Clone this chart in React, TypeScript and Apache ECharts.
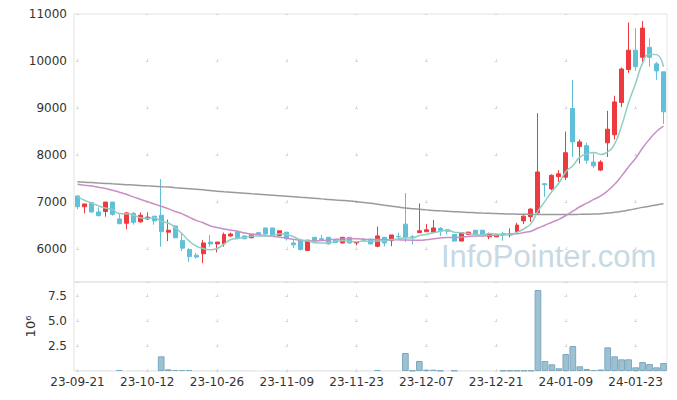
import React, { useEffect, useRef } from "react";
import * as echarts from "echarts";

const dates = [
  "23-09-21","23-09-22","23-09-25","23-09-26","23-09-27",
  "23-10-04","23-10-05","23-10-06","23-10-10","23-10-11","23-10-12","23-10-13","23-10-16","23-10-17","23-10-18","23-10-19","23-10-20","23-10-23","23-10-24","23-10-25","23-10-26","23-10-27","23-10-30","23-10-31",
  "23-11-01","23-11-02","23-11-03","23-11-06","23-11-07","23-11-08","23-11-09","23-11-10","23-11-13","23-11-14","23-11-15","23-11-16","23-11-17","23-11-20","23-11-21","23-11-22","23-11-23","23-11-24","23-11-27","23-11-28","23-11-29","23-11-30",
  "23-12-01","23-12-04","23-12-05","23-12-06","23-12-07","23-12-08","23-12-11","23-12-12","23-12-13","23-12-14","23-12-15","23-12-18","23-12-19","23-12-20","23-12-21","23-12-22","23-12-26","23-12-27","23-12-28",
  "24-01-02","24-01-03","24-01-04","24-01-05","24-01-08","24-01-09","24-01-10","24-01-11","24-01-12","24-01-15","24-01-16","24-01-17","24-01-18","24-01-19","24-01-22","24-01-23","24-01-24","24-01-25","24-01-26","24-01-29"
];

const opens = [
  7130,6900,6990,6790,6800,7000,6640,6550,6760,6580,
  6640,6700,6720,6360,6490,6180,5990,5870,5900,6150,
  6110,6110,6280,6370,6280,6240,6350,6450,6450,6290,
  6360,6130,6190,5970,6250,6220,6250,6190,6130,6250,
  6130,6200,6210,6060,6250,6180,6270,6530,6260,6350,
  6370,6360,6440,6410,6310,6170,6310,6400,6400,6260,
  6260,6330,6300,6370,6600,6690,6770,7390,7280,7540,
  7530,8990,8180,8200,7850,7680,8260,8430,9120,9820,
  10230,10080,10290,9940,9770
];
const closes = [
  6900,6960,6790,6710,7000,6740,6540,6770,6570,6720,
  6680,6600,6370,6400,6240,6020,5840,5830,6130,6110,
  6150,6310,6320,6240,6220,6310,6310,6320,6290,6390,
  6220,6090,5990,6190,6180,6200,6110,6140,6250,6130,
  6150,6190,6110,6280,6130,6300,6260,6240,6250,6390,
  6410,6450,6390,6380,6170,6350,6360,6320,6300,6320,
  6300,6320,6330,6510,6700,6850,7640,7370,7570,7600,
  8050,8280,8280,7890,7770,7850,8550,9130,9830,10230,
  9880,10700,10080,9790,8920
];
const lows = [
  6850,6760,6770,6700,6690,6710,6530,6420,6520,6560,
  6620,6520,6050,6170,6240,5960,5730,5800,5700,6050,
  5930,6050,6260,6240,6210,6240,6300,6310,6280,6280,
  6180,6020,5970,5960,6170,6180,6100,6130,6120,6120,
  6080,6170,6100,6040,6060,6060,6210,6150,6100,6350,
  6370,6360,6280,6310,6160,6170,6300,6310,6290,6210,
  6260,6180,6250,6320,6530,6580,6750,7110,7250,7430,
  7470,7960,7820,7820,7720,7660,7960,8330,9020,9750,
  9790,9980,9880,9600,8660
];
const highs = [
  7140,6960,7000,6890,7000,7000,6760,6790,6790,6780,
  6780,6700,7490,6630,6510,6330,6020,5920,6190,6300,
  6150,6350,6350,6370,6290,6310,6360,6450,6450,6390,
  6360,6190,6190,6190,6250,6300,6250,6200,6260,6250,
  6160,6230,6220,6480,6250,6300,6350,7190,6300,6970,
  6530,6620,6470,6420,6320,6360,6370,6410,6410,6350,
  6310,6370,6440,6560,6720,6870,8890,7400,7590,7680,
  8500,9600,8330,8260,8040,7890,8940,9260,9860,10820,
  10700,10850,10480,9980,9770
];

// volume in millions of shares
const volumes = [
  0.01,0.01,0.01,0.01,0.01,0.01,0.1,0.01,0.01,0.01,
  0.01,0.01,1.47,0.17,0.1,0.1,0.1,0.01,0.01,0.01,
  0.01,0.01,0.01,0.01,0.01,0.01,0.01,0.01,0.01,0.01,
  0.01,0.01,0.01,0.01,0.01,0.01,0.01,0.01,0.01,0.01,
  0.01,0.01,0.01,0.1,0.01,0.01,0.01,1.8,0.05,1.0,
  0.13,0.13,0.05,0.01,0.05,0.01,0.01,0.01,0.01,0.01,
  0.01,0.05,0.05,0.05,0.05,0.05,8.1,1.0,0.67,0.27,
  1.7,2.5,0.47,0.2,0.1,0.15,2.37,1.47,1.17,1.17,
  0.37,0.9,0.7,0.37,0.8
];

const ma5 = [
  7110,7040,6980,6920,6872,6840,6756,6752,6724,6668,
  6656,6668,6588,6554,6458,6326,6174,6066,6012,5986,
  6012,6106,6204,6226,6248,6280,6280,6280,6290,6324,
  6306,6262,6196,6176,6134,6130,6134,6164,6176,6166,
  6156,6172,6166,6172,6172,6202,6216,6242,6236,6288,
  6310,6348,6378,6404,6360,6348,6330,6316,6300,6330,
  6320,6312,6314,6356,6432,6542,6806,7014,7226,7406,
  7646,7774,7956,8020,8054,8014,8068,8238,8626,9118,
  9524,9954,10144,10136,9876
];
const ma20 = [
  7380,7360,7340,7315,7290,7250,7210,7165,7110,7060,
  7010,6960,6910,6860,6800,6750,6680,6610,6560,6496,
  6459,6426,6403,6379,6340,6319,6307,6285,6271,6254,
  6231,6206,6187,6176,6173,6182,6196,6211,6217,6218,
  6218,6212,6202,6204,6199,6199,6196,6192,6190,6190,
  6200,6218,6238,6247,6247,6254,6267,6276,6278,6288,
  6295,6302,6313,6324,6353,6380,6449,6506,6572,6632,
  6714,6806,6900,6976,7056,7131,7240,7381,7557,7753,
  7932,8151,8338,8502,8613
];
const ma120 = [
  7430,7422,7414,7405,7397,7388,7380,7371,7363,7354,
  7345,7337,7328,7318,7307,7296,7285,7273,7260,7246,
  7232,7220,7209,7198,7187,7176,7166,7155,7144,7133,
  7122,7111,7100,7090,7080,7068,7057,7045,7034,7022,
  7008,6992,6975,6955,6933,6912,6893,6875,6860,6846,
  6834,6823,6813,6804,6796,6788,6780,6773,6766,6760,
  6755,6750,6746,6743,6740,6738,6736,6735,6734,6734,
  6735,6737,6739,6742,6746,6752,6765,6782,6804,6830,
  6858,6887,6913,6940,6965
];

const priceTicks = { min: 5300, max: 11000 };
const volumeTicks = { min: 0, max: 8.9, interval: 2.5 };

const UP = "#ec3a3e";
const DOWN = "#60c0d8";
const FONT = "'DejaVu Sans', sans-serif";
const GRID_LINE = "#d9d9d9";

export default function App() {
  const ref = useRef<HTMLDivElement>(null);
  useEffect(() => {
    if (!ref.current) return;
    const chart = echarts.init(ref.current, null, { renderer: "svg" });
    const candleData = opens.map((o, i) => [o, closes[i], lows[i], highs[i]]);
    const volumeData = volumes.map((v) =>
      v < 0.04 ? { value: v, itemStyle: { borderWidth: 0 } } : { value: v }
    );
    const option = {
      animation: false,
      backgroundColor: "#ffffff",
      textStyle: { fontFamily: FONT },
      grid: [
        { left: 74, right: 10, top: 14, height: 268, show: true, borderColor: "#e3e3e3", borderWidth: 1 },
        { left: 74, right: 10, top: 282, height: 89, show: true, borderColor: "#e3e3e3", borderWidth: 1 },
      ],
      graphic: [
        {
          type: "text",
          left: 441,
          top: 241,
          z: 0,
          silent: true,
          style: {
            text: "InfoPointer.com",
            font: "31px 'Liberation Sans', Arial, sans-serif",
            fill: "#c6d9e4",
          },
        },
      ],
      xAxis: [
        {
          type: "category",
          gridIndex: 0,
          data: dates,
          boundaryGap: true,
          axisLine: { show: false },
          axisTick: { show: false },
          axisLabel: { show: false },
          splitLine: {
            show: true,
            interval: 9,
            alignWithLabel: true,
            lineStyle: { color: GRID_LINE, width: 1, type: [3, 44.02], dashOffset: 1.5 },
          },
        },
        {
          type: "category",
          gridIndex: 1,
          data: dates,
          boundaryGap: true,
          axisLine: { show: false },
          axisTick: { show: false },
          axisLabel: { interval: 9, color: "#333", fontSize: 12, margin: 5, fontFamily: FONT },
          splitLine: {
            show: true,
            interval: 9,
            alignWithLabel: true,
            lineStyle: { color: GRID_LINE, width: 1, type: [3, 22], dashOffset: 12.5 },
          },
        },
      ],
      yAxis: [
        {
          type: "value",
          gridIndex: 0,
          min: priceTicks.min,
          max: priceTicks.max,
          splitNumber: 6,
          axisLine: { show: false },
          axisTick: { show: false },
          axisLabel: {
            showMinLabel: false,
            color: "#333",
            fontSize: 12,
            margin: 7,
            fontFamily: FONT,
            formatter: (v: number) => String(v),
          },
          splitLine: { show: true, lineStyle: { color: GRID_LINE, width: 1, type: [3, 66.76], dashOffset: -1.99 } },
        },
        {
          type: "value",
          gridIndex: 1,
          min: volumeTicks.min,
          max: volumeTicks.max,
          interval: volumeTicks.interval,
          name: "10\u2076",
          nameLocation: "middle",
          nameRotate: 90,
          nameGap: 33,
          nameTextStyle: { color: "#333", fontSize: 13, fontFamily: FONT },
          axisLine: { show: false },
          axisTick: { show: false },
          axisLabel: {
            showMinLabel: false,
            showMaxLabel: false,
            color: "#333",
            fontSize: 12,
            margin: 7,
            fontFamily: FONT,
            formatter: (v: number) => v.toFixed(1),
          },
          splitLine: { show: true, lineStyle: { color: GRID_LINE, width: 1, type: [3, 66.76], dashOffset: -1.99 } },
        },
      ],
      series: [
        {
          name: "price",
          type: "candlestick",
          xAxisIndex: 0,
          yAxisIndex: 0,
          data: candleData,
          barWidth: "64%",
          itemStyle: { color: UP, color0: DOWN, borderColor: UP, borderColor0: DOWN, borderWidth: 1 },
          z: 3,
        },
        {
          name: "MA120",
          type: "line",
          xAxisIndex: 0,
          yAxisIndex: 0,
          data: ma120,
          smooth: true,
          symbol: "none",
          lineStyle: { color: "#9a9a9a", width: 1.5 },
          z: 4,
        },
        {
          name: "MA20",
          type: "line",
          xAxisIndex: 0,
          yAxisIndex: 0,
          data: ma20,
          smooth: true,
          symbol: "none",
          lineStyle: { color: "#c98ec6", width: 1.5 },
          z: 4,
        },
        {
          name: "MA5",
          type: "line",
          xAxisIndex: 0,
          yAxisIndex: 0,
          data: ma5,
          smooth: true,
          symbol: "none",
          lineStyle: { color: "#8fcec4", width: 1.5 },
          z: 4,
        },
        {
          name: "volume",
          type: "bar",
          xAxisIndex: 1,
          yAxisIndex: 1,
          data: volumeData,
          barCategoryGap: "4%",
          itemStyle: { color: "#9dc1d2", borderColor: "#7ea9bd", borderWidth: 1 },
        },
      ],
    };
    chart.setOption(option as any);
    return () => chart.dispose();
  }, []);
  return (
    <div
      ref={ref}
      style={{ position: "fixed", left: 0, top: 0, width: 677, height: 400, background: "#fff" }}
    />
  );
}
